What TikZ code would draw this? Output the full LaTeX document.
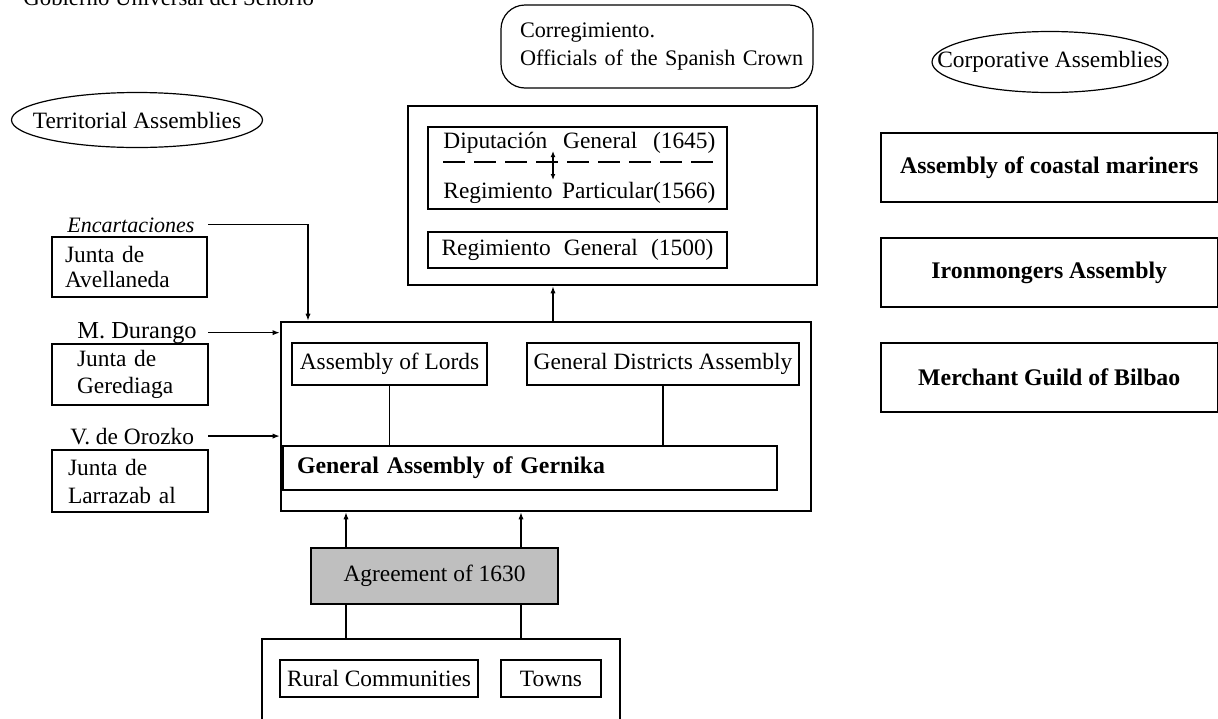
\documentclass[tikz,border=0pt]{standalone}
\usepackage{fontspec}
\setmainfont{Liberation Serif}
\usetikzlibrary{arrows.meta,calc,shapes.geometric}
\begin{document}
\begin{tikzpicture}[x=0.5pt,y=-0.5pt,
  every node/.style={font=\fontsize{11.7pt}{13.5pt}\selectfont},
  thinln/.style={line width=0.6pt},
  thickln/.style={line width=1.3pt},
  bx/.style={draw,thinln,inner sep=0pt,rectangle},
  tbx/.style={draw,thickln,inner sep=0pt,rectangle},
  lbl/.style={inner sep=0pt,anchor=base west},
  bold/.style={font=\fontsize{11.9pt}{13.5pt}\selectfont\bfseries},
  arr/.style={thinln,-{Latex[length=3.5pt,width=2.6pt]}},
  dbl/.style={thinln,{Latex[length=3pt,width=2.4pt]}-{Latex[length=3pt,width=2.4pt]}},
  oval/.style={draw,thinln,ellipse,inner sep=0pt},
]
\useasboundingbox (0,0) rectangle (1218,718);
\clip (0,0) rectangle (1218,718);

% title (cut at top, as in the reference)
\node[lbl,font=\fontsize{11.4pt}{13pt}\selectfont] (title) at (23,5) {Gobierno Universal del Señorío};

% Corregimiento
\node[draw,thinln,rounded corners=12pt,minimum width=156pt,minimum height=41.5pt,
      inner xsep=0pt,inner ysep=0pt,text width=156pt,align=left,
      font=\fontsize{11.1pt}{14pt}\selectfont] (corr) at (657,46.5)
      {\hspace*{9.5pt}\mbox{Corregimiento.}\\\hspace*{9.5pt}\mbox{Officials of the Spanish Crown}};

% ellipses
\node[oval,minimum width=125.5pt,minimum height=27.5pt] (terr) at (137,120) {\makebox[0pt]{Territorial Assemblies}};
\node[oval,minimum width=118pt,minimum height=30.5pt] (corp) at (1050,62) {\makebox[0pt]{Corporative Assemblies}};

% Diputacion block
\node[tbx,minimum width=204.5pt,minimum height=89.5pt] (dip) at (612.5,195.5) {};
\node[bx,minimum width=149.5pt,minimum height=41pt] (dipin) at (577.5,168) {};
\node[lbl] (diptxt) at (443,148) {\hbox to 136pt{Diputación\hfill General\hfill (1645)}};
\node[lbl] (regptxt) at (443,198) {\hbox to 136pt{Regimiento\hfill Particular(1566)}};
\draw[thinln,dash pattern=on 11pt off 4.5pt] (443,162) -- (715,162);
\draw[dbl] (553,151) -- (553,180);
\node[bx,minimum width=149.5pt,minimum height=18pt] (regg) at (577.5,250) {\hbox to 136pt{Regimiento\hfill General\hfill (1500)}};

% Gernika block
\node[tbx,minimum width=265pt,minimum height=94.5pt] (gern) at (546,416.5) {};
\node[bx,minimum width=97.5pt,minimum height=21pt] (lords) at (389.5,364) {Assembly of Lords};
\node[bx,minimum width=136pt,minimum height=21pt] (gda) at (663,364) {General Districts Assembly};
\node[bx,bold,minimum width=247pt,minimum height=22pt,inner xsep=7pt,text width=233pt,align=left] (gga) at (530,468) {General Assembly of Gernika};
\draw[thinln] (lords.south) -- (lords.south |- gga.north);
\draw[thinln] (gda.south) -- (gda.south |- gga.north);

\coordinate (ux) at (553,0);
\draw[arr] (gern.north -| ux) -- (dip.south -| ux);

% Agreement and base
\node[tbx,fill=black!25,minimum width=123.5pt,minimum height=28pt] (agr) at (434.5,576) {Agreement of 1630};
\coordinate (a1) at (346,0);
\coordinate (a2) at (521,0);
\draw[arr] (agr.north -| a1) -- (gern.south -| a1);
\draw[arr] (agr.north -| a2) -- (gern.south -| a2);
\node[bx,minimum width=179pt,minimum height=50.5pt] (rural) at (441,689.5) {};
\draw[thinln] (agr.south -| a1) -- (rural.north -| a1);
\draw[thinln] (agr.south -| a2) -- (rural.north -| a2);
\node[bx,minimum width=99pt,minimum height=18.5pt] (rc) at (379,678.5) {Rural Communities};
\node[bx,minimum width=50pt,minimum height=18.5pt] (towns) at (551,678.5) {Towns};

% Territorial assemblies (left)
\coordinate (L) at (208,0);
\coordinate (encx) at (308,0);
\node[lbl,font=\fontsize{11pt}{13pt}\selectfont\itshape] (enc) at (67,232) {Encartaciones};
\node[bx,minimum width=77.5pt,minimum height=30pt,inner xsep=6.5pt,text width=64.5pt,align=left,
      font=\fontsize{11.7pt}{12.5pt}\selectfont] (avel) at (129.5,267) {Junta de\\Avellaneda};
\draw[arr] (enc.east -| L) -| (gern.north -| encx);

\node[lbl,font=\fontsize{12.2pt}{13pt}\selectfont] (dur) at (77,338) {M. Durango};
\node[tbx,minimum width=78pt,minimum height=30.5pt,inner xsep=12.5pt,text width=53pt,align=left,
      font=\fontsize{11.7pt}{13.5pt}\selectfont] (gered) at (130,374.5) {Junta de\\Gerediaga};
\draw[arr] (dur.east -| L) -- (dur.east -| gern.west);

\node[lbl] (oro) at (70,444) {V. de Orozko};
\node[tbx,minimum width=78pt,minimum height=31pt,inner xsep=8pt,text width=62pt,align=left,
      font=\fontsize{11.7pt}{14pt}\selectfont] (larr) at (130,481) {Junta de\\Larrazab al};
\draw[arr] (oro.east -| L) -- (oro.east -| gern.west);

% Corporative assemblies (right)
\node[bx,bold,minimum width=168.25pt,minimum height=34.5pt] (coast) at (1049.25,167.5) {Assembly of coastal mariners};
\node[bx,bold,minimum width=168.25pt,minimum height=34.5pt] (iron) at (1049.25,272.5) {Ironmongers Assembly};
\node[bx,bold,minimum width=168.25pt,minimum height=34.5pt] (merch) at (1049.25,377.5) {Merchant Guild of Bilbao};
\end{tikzpicture}
\end{document}
